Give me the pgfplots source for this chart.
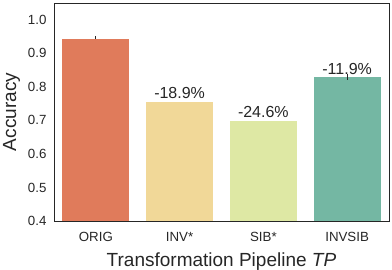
\documentclass[border=0pt]{standalone}
\usepackage{pgfplots}
\pgfplotsset{compat=1.18}
\usepackage{fontspec}
\setmainfont{Liberation Sans}
\definecolor{txt}{HTML}{262626}
\definecolor{cA}{RGB}{224,123,91}
\definecolor{cB}{RGB}{241,216,152}
\definecolor{cC}{RGB}{222,232,164}
\definecolor{cD}{RGB}{116,183,163}
\begin{document}
\begin{tikzpicture}
\begin{axis}[
  at={(0,0)}, anchor=south west,
  scale only axis,
  width=335pt, height=218pt,
  xmin=-0.5, xmax=3.5,
  ymin=0.4, ymax=1.05,
  ytick={0.4,0.5,0.6,0.7,0.8,0.9,1.0},
  yticklabel style={/pgf/number format/fixed,/pgf/number format/precision=1,/pgf/number format/fixed zerofill},
  /pgf/number format/assume math mode=true,
  xtick={0,1,2,3},
  xticklabels={ORIG,INV*,SIB*,INVSIB},
  major tick length=0pt,
  tick label style={font=\fontsize{13.3}{15}\selectfont, text=txt},
  xlabel={Transformation Pipeline \textit{TP}},
  ylabel={Accuracy},
  label style={font=\fontsize{19}{22}\selectfont, text=txt},
  axis line style={txt, line width=0.9pt},
  ylabel style={yshift=1pt},
  xlabel style={yshift=-4pt},
  xticklabel style={yshift=-8pt},
  yticklabel style={xshift=-4pt},
  axis on top,
  clip=false,
]
\addplot[ybar, bar width=0.8, draw=none, fill=cA,
  error bars/.cd, y dir=both, y explicit, error bar style={txt, line width=0.8pt}, error mark=none]
  coordinates {(0,0.943) += (0,0.009) -= (0,0)};
\addplot[ybar, bar width=0.8, draw=none, fill=cB] coordinates {(1,0.756)};
\addplot[ybar, bar width=0.8, draw=none, fill=cC] coordinates {(2,0.699)};
\addplot[ybar, bar width=0.8, draw=none, fill=cD,
  error bars/.cd, y dir=both, y explicit, error bar style={txt, line width=0.8pt}, error mark=none]
  coordinates {(3,0.828) += (0,0.009) -= (0,0.007)};
\addplot[only marks, mark=none, nodes near coords, point meta=explicit symbolic,
  every node near coord/.style={anchor=south, inner sep=0pt, yshift=2.5pt, font=\fontsize{16}{18}\selectfont, text=txt}]
  coordinates {(1,0.756) [-18.9\%] (2,0.699) [-24.6\%] (3,0.828) [-11.9\%]};
\end{axis}
\pgfresetboundingbox
\path[use as bounding box] (-54pt,-49pt) rectangle (338pt,221pt);
\end{tikzpicture}
\end{document}
